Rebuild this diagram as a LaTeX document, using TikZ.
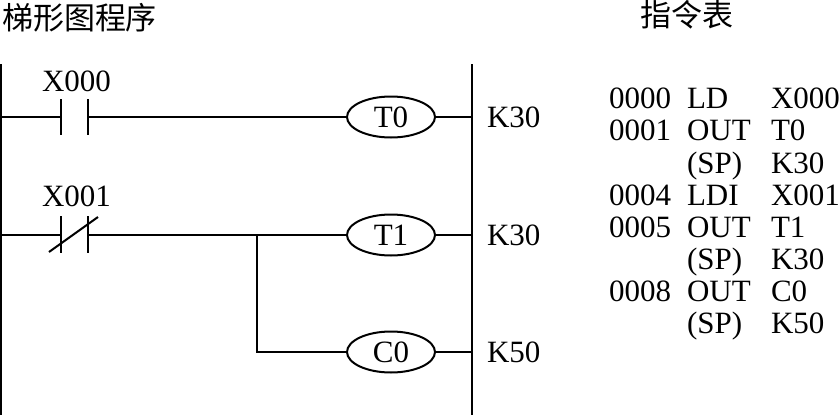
\documentclass[tikz,border=0pt]{standalone}
\usepackage{fontspec}
\setmainfont{Liberation Serif}
\newfontfamily\cjk{Noto Sans CJK SC}
\usetikzlibrary{shapes.geometric}
\tikzset{
 every node/.style={inner sep=0pt,outer sep=0pt,font=\fontsize{31}{31}\selectfont,text=black},
 wire/.style={line width=1.8pt,black},
 contact/.style={line width=2pt,black},
 rail/.style={line width=2.6pt,black},
 coil/.style={draw,ellipse,line width=2pt,minimum width=88pt,minimum height=41pt,anchor=center},
 lab/.style={anchor=base west},
 title/.style={anchor=base west,font=\fontsize{31}{31}\selectfont\cjk},
}
\begin{document}
\begin{tikzpicture}[x=1pt,y=-1pt]
\useasboundingbox (0,0) rectangle (839,415);
\node[title] (t1) at (2,29) {梯形图程序};
\node[title] (t2) at (640,27) {指令表};
% rails
\coordinate (L1) at (1,64); \coordinate (L2) at (1,415);
\coordinate (R1) at (472,64); \coordinate (R2) at (472,415);
\draw[rail] (L1) -- (L2);
\draw[rail] (R1) -- (R2);
% coils
\node[coil] (T0) at (391,117) {T0};
\node[coil] (T1) at (391,235) {T1};
\node[coil] (C0) at (391,352) {C0};
% rail tap points
\coordinate (a0) at (1,117); \coordinate (a1) at (1,235);
\coordinate (r0) at (472,117); \coordinate (r1) at (472,235); \coordinate (r2) at (472,352);
% contacts
\coordinate (c0a) at (61,117); \coordinate (c0b) at (88,117);
\coordinate (c1a) at (61,235); \coordinate (c1b) at (88,235);
\coordinate (j) at (257,235); \coordinate (jb) at (257,352);
\draw[wire] (a0) -- (c0a);
\draw[wire] (c0b) -- (T0);
\draw[wire] (T0) -- (r0);
\draw[wire] (a1) -- (c1a);
\draw[wire] (c1b) -- (T1);
\draw[wire] (T1) -- (r1);
\draw[wire] (j) -- (jb) -- (C0);
\draw[wire] (C0) -- (r2);
\draw[contact] (61,99) -- (61,135);
\draw[contact] (88,99) -- (88,135);
\draw[contact] (61,216) -- (61,253);
\draw[contact] (88,216) -- (88,253);
\draw[contact] (49,252) -- (98,217);
% labels
\node[lab] (x0) at (42,91) {X000};
\node[lab] (x1) at (42,206) {X001};
\node[lab] (k0) at (487,127) {K30};
\node[lab] (k1) at (487,245) {K30};
\node[lab] (k2) at (487,362) {K50};
% instruction table
\node[lab] (n1) at (609,108) {0000}; \node[lab] (o1) at (687,108) {LD}; \node[lab] (p1) at (771,108) {X000};
\node[lab] (n2) at (609,140) {0001}; \node[lab] (o2) at (687,140) {OUT}; \node[lab] (p2) at (771,140) {T0};
\node[lab] (o3) at (687,173) {(SP)}; \node[lab] (p3) at (771,173) {K30};
\node[lab] (n4) at (609,205) {0004}; \node[lab] (o4) at (687,205) {LDI}; \node[lab] (p4) at (771,205) {X001};
\node[lab] (n5) at (609,237) {0005}; \node[lab] (o5) at (687,237) {OUT}; \node[lab] (p5) at (771,237) {T1};
\node[lab] (o6) at (687,269) {(SP)}; \node[lab] (p6) at (771,269) {K30};
\node[lab] (n7) at (609,301) {0008}; \node[lab] (o7) at (687,301) {OUT}; \node[lab] (p7) at (771,301) {C0};
\node[lab] (o8) at (687,333) {(SP)}; \node[lab] (p8) at (771,333) {K50};
\end{tikzpicture}
\end{document}
